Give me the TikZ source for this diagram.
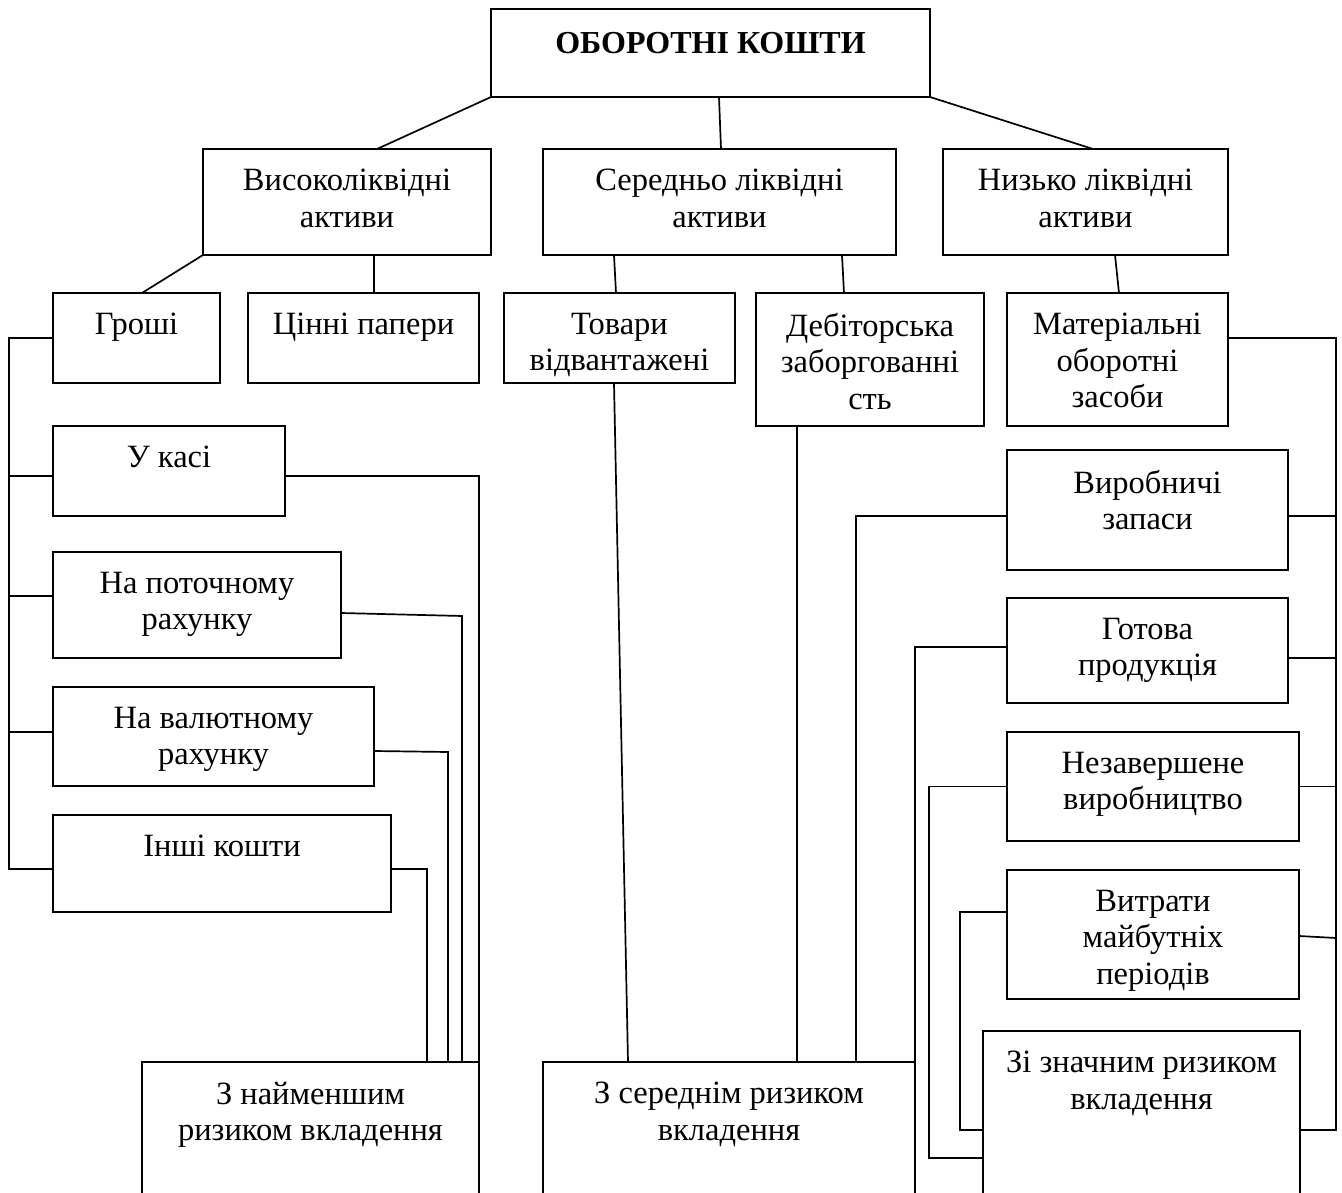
\documentclass[tikz,border=0pt]{standalone}
\usepackage{fontspec}
\setmainfont{Liberation Serif}
\usetikzlibrary{calc}

\begin{document}
\begin{tikzpicture}[x=1pt, y=-1pt, font=\fontsize{32.5}{36.5}\selectfont,
    blok/.style={draw, line width=1.7pt, anchor=north west, inner sep=0pt, outer sep=0pt},
    vidkr/.style={anchor=north west, inner sep=0pt, outer sep=0pt},
    napys/.style={anchor=north, yshift=-20pt, align=center, inner sep=0pt},
    lin/.style={line width=1.7pt}]
    \useasboundingbox (0,0) rectangle (1342,1193);
    % top and level 2
    \node[blok, minimum width=439pt, minimum height=88pt, label={[napys, yshift=-3pt, font=\fontsize{32}{36}\selectfont\bfseries]north:ОБОРОТНІ КОШТИ}] (koshty) at (491,9) {};
    \node[blok, minimum width=288pt, minimum height=106pt, label={[napys]north:Високоліквідні\\активи}] (vysoko) at (203,149) {};
    \node[blok, minimum width=353pt, minimum height=106pt, label={[napys]north:Середньо ліквідні\\активи}] (seredno) at (543,149) {};
    \node[blok, minimum width=285pt, minimum height=106pt, label={[napys]north:Низько ліквідні\\активи}] (nyzko) at (943,149) {};
    % level 3
    \node[blok, minimum width=167pt, minimum height=90pt, label={[napys]north:Гроші}] (groshi) at (53,293) {};
    \node[blok, minimum width=231pt, minimum height=90pt, label={[napys]north:Цінні папери}] (papery) at (248,293) {};
    \node[blok, minimum width=231pt, minimum height=90pt, label={[napys]north:Товари\\відвантажені}] (tovary) at (504,293) {};
    \node[blok, minimum width=228pt, minimum height=133pt, label={[napys]north:Дебіторська\\заборгованні\\сть}] (debitor) at (756,293) {};
    \node[blok, minimum width=221pt, minimum height=133pt, label={[napys]north:Матеріальні\\оборотні\\засоби}] (material) at (1007,293) {};
    % money
    \node[blok, minimum width=232pt, minimum height=90pt, label={[napys]north:У касі}] (kasa) at (53,426) {};
    \node[blok, minimum width=288pt, minimum height=106pt, label={[napys]north:На поточному\\рахунку}] (rakh) at (53,552) {};
    \node[blok, minimum width=321pt, minimum height=99pt, label={[napys]north:На валютному\\рахунку}] (valuta) at (53,687) {};
    \node[blok, minimum width=338pt, minimum height=97pt, label={[napys]north:Інші кошти}] (inshi) at (53,815) {};
    % material assets
    \node[blok, minimum width=281pt, minimum height=120pt, label={[napys]north:Виробничі\\запаси}] (zapasy) at (1007,450) {};
    \node[blok, minimum width=281pt, minimum height=105pt, label={[napys]north:Готова\\продукція}] (produkt) at (1007,598) {};
    \node[blok, minimum width=292pt, minimum height=109pt, label={[napys]north:Незавершене\\виробництво}] (nezav) at (1007,732) {};
    \node[blok, minimum width=292pt, minimum height=129pt, label={[napys]north:Витрати\\майбутніх\\періодів}] (vytraty) at (1007,870) {};
    % risk groups, open at the bottom
    \node[vidkr, minimum width=337pt, minimum height=132pt, label={[napys]north:З найменшим\\ризиком вкладення}] (naimen) at (142,1062) {};
    \node[vidkr, minimum width=372pt, minimum height=132pt, label={[napys]north:З середнім ризиком\\вкладення}] (seredn) at (543,1062) {};
    \node[vidkr, minimum width=317pt, minimum height=163pt, label={[napys]north:Зі значним ризиком\\вкладення}] (znachn) at (983,1031) {};
    \draw[lin] (naimen.south west) |- (naimen.north east) -- (naimen.south east);
    \draw[lin] (seredn.south west) |- (seredn.north east) -- (seredn.south east);
    \draw[lin] (znachn.south west) |- (znachn.north east) -- (znachn.south east);

    % tree lines
    \draw[lin] (koshty.south west) -- (vysoko.north -| 377,0);
    \draw[lin] (koshty.south -| 719,0) -- (seredno.north -| 721,0);
    \draw[lin] (koshty.south east) -- (nyzko.north -| 1093,0);
    \draw[lin] (vysoko.south west) -- (groshi.north -| 142,0);
    \draw[lin] (vysoko.south -| 374,0) -- (papery.north -| 374,0);
    \draw[lin] (seredno.south -| 614,0) -- (tovary.north -| 616,0);
    \draw[lin] (seredno.south -| 842,0) -- (debitor.north -| 844,0);
    \draw[lin] (nyzko.south -| 1115,0) -- (material.north -| 1119,0);

    % left bus
    \coordinate (lshyna) at (9,338);
    \draw[lin] (groshi.west) -- (lshyna) -- (lshyna |- 0,869) -- (inshi.west |- 0,869);
    \draw[lin] (kasa.west |- 0,476) -- (lshyna |- 0,476);
    \draw[lin] (rakh.west |- 0,596) -- (lshyna |- 0,596);
    \draw[lin] (valuta.west |- 0,732) -- (lshyna |- 0,732);
    \draw[lin] (kasa.east |- 0,476) -| (naimen.north east);
    \draw[lin] (rakh.east |- 0,613) -- ++(121,3) -- (naimen.north -| 462,0);
    \draw[lin] (valuta.east |- 0,751) -- ++(74,1) -- (naimen.north -| 448,0);
    \draw[lin] (inshi.east |- 0,869) -| (naimen.north -| 427,0);

    % middle
    \draw[lin] (tovary.south -| 614,0) -- (seredn.north -| 628,0);
    \draw[lin] (debitor.south -| 797,0) -- (seredn.north -| 797,0);
    \draw[lin] (zapasy.west |- 0,516) -| (seredn.north -| 856,0);
    \draw[lin] (produkt.west |- 0,647) -| (seredn.north east);

    % right bus
    \coordinate (rshyna) at (1336,338);
    \draw[lin] (material.east |- rshyna) -- (rshyna) -- (rshyna |- 0,1130) -- (znachn.east |- 0,1130);
    \draw[lin] (zapasy.east |- 0,516) -- (rshyna |- 0,516);
    \draw[lin] (produkt.east |- 0,658) -- (rshyna |- 0,658);
    \draw[lin] (nezav.east) -- (rshyna |- nezav.east);
    \draw[lin] (vytraty.east |- 0,936) -- (rshyna |- 0,938);
    \draw[lin] (nezav.west) -- ++(-78,0) |- (znachn.west |- 0,1158);
    \draw[lin] (vytraty.west |- 0,912) -- ++(-47,0) |- (znachn.west |- 0,1130);
\end{tikzpicture}
\end{document}
